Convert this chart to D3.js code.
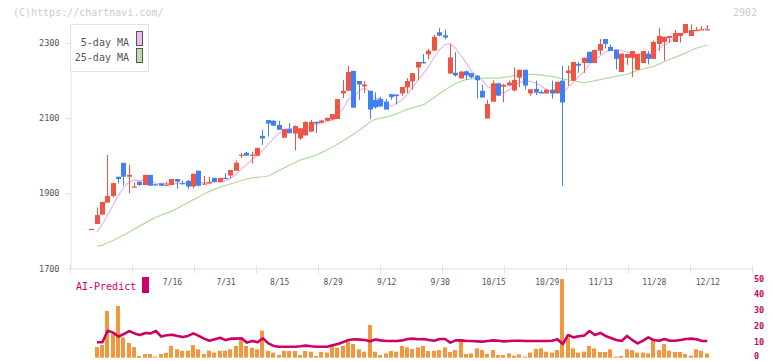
<!DOCTYPE html>
<html><head><meta charset="utf-8">
<script src="https://cdn.jsdelivr.net/npm/d3@7"></script>
<style>
body{margin:0;background:#fff;}
svg{display:block;font-family:"DejaVu Sans Mono",monospace;}
</style></head>
<body><svg id="c" width="772" height="361"></svg>
<script>
const open = [1803,1818,1843,1875,1893,1944,1981,1944,1916,1931, 1922,1949,1924,1926,1920,1922,1938,1927,1933,1918, 1960,1923,1926,1941,1930,1941,1947,1960,2001,2008, 2001,2000,2053,2095,2093,2082,2048,2071,2059,2046, 2054,2064,2090,2088,2093,2097,2098,2166,2173,2226, 2199,2185,2173,2149,2151,2144,2164,2163,2166,2182, 2198,2235,2250,2270,2280,2329,2321,2219,2221,2206, 2225,2220,2213,2173,2099,2144,2193,2184,2187,2174, 2208,2229,2166,2178,2170,2166,2176,2166,2200,2220, 2200,2245,2247,2277,2247,2280,2311,2290,2282,2223, 2261,2261,2229,2247,2271,2258,2298,2303,2314,2303, 2319,2327,2319,2333,2335,2336];
const close = [1805,1842,1877,1893,1927,1938,1944,1949,1918,1922, 1949,1920,1921,1920,1923,1938,1931,1924,1918,1952, 1920,1926,1930,1930,1941,1938,1962,1981,2003,2000, 2003,2021,2046,2086,2080,2069,2071,2060,2079,2073, 2090,2090,2086,2094,2101,2111,2151,2173,2223,2128, 2190,2190,2123,2129,2131,2123,2156,2159,2183,2199, 2220,2250,2246,2280,2317,2320,2315,2262,2214,2224, 2214,2209,2201,2155,2138,2193,2160,2189,2195,2202, 2229,2187,2177,2168,2166,2176,2166,2197,2142,2227, 2250,2240,2261,2247,2282,2298,2298,2279,2258,2272, 2271,2279,2271,2279,2258,2303,2319,2317,2319,2327, 2327,2351,2335,2335,2337,2337];
const high = [1805,1862,1877,2002,1927,1944,1981,1976,1929,1931, 1949,1949,1924,1926,1929,1938,1938,1933,1936,1952, 1960,1946,1944,1941,1941,1953,1962,1987,2008,2010, 2010,2021,2069,2095,2095,2093,2071,2087,2081,2073, 2092,2095,2092,2094,2101,2111,2151,2202,2239,2226, 2199,2199,2173,2169,2157,2151,2164,2163,2183,2207, 2220,2250,2271,2285,2322,2340,2336,2298,2276,2226, 2227,2221,2215,2189,2149,2201,2195,2191,2200,2235, 2229,2229,2177,2200,2175,2177,2200,2197,2240,2240, 2250,2250,2261,2277,2282,2311,2311,2296,2282,2272, 2271,2279,2271,2279,2279,2307,2341,2317,2319,2335, 2327,2351,2350,2343,2346,2348];
const low = [1803,1818,1843,1875,1889,1926,1920,1900,1916,1920, 1922,1920,1921,1920,1920,1922,1912,1924,1912,1913, 1918,1923,1926,1928,1930,1938,1939,1960,1994,2000, 1979,2000,2029,2051,2080,2069,2048,2060,2014,2042, 2054,2064,2060,2088,2093,2094,2098,2153,2173,2128, 2149,2167,2098,2125,2131,2123,2149,2137,2160,2167, 2176,2202,2246,2257,2280,2318,2310,2219,2211,2206, 2202,2206,2152,2155,2099,2144,2160,2142,2187,2171, 2183,2176,2160,2162,2166,2166,2152,2166,1920,2186, 2200,2221,2221,2247,2247,2269,2286,2279,2230,2223, 2242,2210,2229,2247,2243,2258,2279,2253,2301,2303, 2301,2327,2319,2333,2335,2336];
const ma5 = [null,1797,1818,1842,1869,1895,1916,1930,1935,1934, 1936,1932,1926,1926,1927,1924,1927,1927,1927,1933, 1929,1928,1929,1932,1929,1933,1940,1950,1965,1977, 1990,2002,2015,2031,2047,2060,2070,2073,2072,2070, 2075,2078,2084,2087,2092,2096,2109,2126,2152,2157, 2173,2181,2171,2152,2153,2139,2132,2140,2150,2164, 2183,2202,2220,2239,2263,2283,2296,2299,2286,2267, 2246,2225,2212,2201,2183,2179,2169,2167,2175,2188, 2195,2200,2198,2193,2185,2175,2171,2175,2169,2182, 2196,2211,2224,2245,2256,2266,2277,2281,2283,2281, 2276,2272,2270,2274,2272,2278,2286,2295,2303,2317, 2322,2328,2332,2335,2337,2339];
const ma25 = [null,1759,1761,1768,1774,1782,1789,1797,1805,1813, 1821,1829,1836,1842,1847,1853,1860,1868,1875,1883, 1890,1898,1905,1911,1916,1921,1925,1930,1934,1938, 1941,1943,1944,1946,1953,1961,1968,1975,1982,1989, 1993,1997,2002,2009,2016,2023,2032,2040,2049,2058, 2068,2079,2090,2097,2100,2103,2107,2112,2118,2124, 2128,2132,2136,2146,2156,2166,2175,2184,2193,2198, 2203,2205,2206,2207,2207,2207,2207,2209,2211,2214, 2216,2216,2217,2217,2215,2213,2211,2208,2205,2202, 2200,2197,2195,2197,2200,2203,2206,2209,2212,2214, 2217,2222,2227,2231,2235,2238,2244,2251,2257,2262, 2268,2274,2281,2287,2291,2295];
const volume = [null,6.7,8.0,29.4,14.9,32.6,12.8,9.3,6.7,1.1, 2.3,2.3,0.7,2.3,3.0,7.4,5.3,4.4,4.4,8.0, 5.3,2.3,4.4,3.2,4.4,4.4,5.3,7.4,11.8,7.4, 6.3,5.3,17.0,4.4,3.2,1.7,4.4,4.2,4.2,1.7, 4.2,3.8,1.1,3.6,3.2,7.4,6.3,7.4,10.1,8.6, 5.3,3.8,20.6,3.8,1.7,2.7,4.2,3.8,7.4,6.5, 5.5,6.5,7.4,4.2,4.4,4.8,6.5,3.6,4.8,10.5, 2.3,2.7,5.9,4.8,2.3,4.8,1.7,1.7,2.7,1.3, 2.1,0.7,3.2,5.5,5.9,3.8,3.2,4.8,49.5,12.6, 5.9,3.2,3.8,7.4,5.9,3.6,3.6,5.3,0.7,1.1, 5.3,4.8,3.2,3.2,2.7,11.1,4.8,8.6,4.4,3.6, 3.6,2.3,1.3,5.3,4.4,2.7];
const aiPredict = [null,9.7,9.7,17.0,15.8,13.3,14.9,16.8,15.3,14.3, 15.6,15.3,16.8,13.3,14.1,14.5,13.7,13.0,13.7,15.3, 13.7,12.0,10.7,11.6,12.6,11.1,12.0,12.0,12.2,9.5, 10.5,9.7,12.2,9.0,7.4,6.9,6.9,6.9,6.9,7.2, 7.6,7.2,6.9,6.9,6.9,7.8,8.6,9.9,11.1,11.6, 11.4,11.1,10.3,11.4,10.9,10.5,10.5,10.5,10.9,11.8, 12.0,11.6,11.8,11.1,10.7,11.8,11.8,9.5,10.9,10.9, 10.5,10.5,10.3,10.1,10.5,10.9,10.7,10.3,10.5,10.7, 10.7,10.5,10.5,10.5,10.5,10.5,10.7,11.6,8.6,14.3, 12.8,13.5,13.9,16.8,14.3,15.6,13.7,12.4,11.1,10.5, 13.7,11.1,9.0,10.7,12.8,11.1,10.7,11.8,10.7,10.7, 11.1,11.8,12.0,11.6,10.5,10.5];
const dateLabels = ["7/16","7/31","8/15","8/29","9/12","9/30","10/15","10/29","11/13","11/28","12/12"];
const dateLabelIdx = [15,25,35,45,55,65,75,85,95,105,115];
const priceTicks = [1700,1900,2100,2300];
const rightTicks = [0,10,20,30,40,50];
const gridSlots = d3.range(12);

const svg = d3.select("#c");
const N = close.length;
const x = d3.scaleLinear().domain([0, N-1]).range([91.7, 707.3]);
const y = d3.scaleLinear().domain([1700, 2351]).range([268.3, 24]);
const g = d3.scaleLinear().domain([0, 11]).range([70, 752]);
const vy = d3.scaleLinear().domain([0, 50]).range([357.7, 278.3]);
const idx = d3.range(N);
const AXC = "#e0e0e0";

svg.append("text").attr("x",13).attr("y",16).attr("font-size",10).attr("fill","#cccccc").text("(C)https://chartnavi.com/");
svg.append("text").attr("x",733).attr("y",16).attr("font-size",10).attr("fill","#cccccc").text("2902");

const ya = svg.append("g").attr("transform","translate(70.5,0)")
  .call(d3.axisLeft(y).tickValues(priceTicks).tickSize(5).tickSizeOuter(0).tickPadding(6).tickFormat(d3.format("d")));
ya.select(".domain").attr("stroke",AXC);
ya.selectAll(".tick line").attr("stroke",AXC);
ya.selectAll(".tick text").attr("fill","#555").attr("font-size",8.5).attr("font-family","DejaVu Sans Mono");

const xa = svg.append("g").attr("transform","translate(0,268.5)")
  .call(d3.axisBottom(g).tickValues(gridSlots).tickSize(5).tickSizeOuter(0).tickFormat(""));
xa.select(".domain").attr("stroke",AXC);
xa.selectAll(".tick line").attr("stroke",AXC).attr("y1",-3);

const da = svg.append("g").attr("transform","translate(0,279)")
  .call(d3.axisBottom(x).tickValues(dateLabelIdx).tickSize(0).tickPadding(0).tickFormat((d,i)=>dateLabels[i]));
da.select(".domain").remove();
da.selectAll(".tick text").attr("fill","#555").attr("font-size",8).attr("font-family","DejaVu Sans Mono");

const line = (arr)=>d3.line().defined(i=>arr[i]!=null).x(i=>x(i)).y(i=>y(arr[i]));
svg.append("path").datum(idx).attr("d",line(ma25)).attr("fill","none").attr("stroke","#b2dca2").attr("stroke-width",1.2);
svg.append("path").datum(idx).attr("d",line(ma5)).attr("fill","none").attr("stroke","#e8b2e8").attr("stroke-width",1.1);

const UP="#f05444", DN="#4080f0";
const cg = svg.append("g");
idx.forEach(i=>{
  const col = close[i]>=open[i]?UP:DN;
  const left = Math.round(x(i)-2.5);
  cg.append("line").attr("x1",left+2.5).attr("x2",left+2.5)
    .attr("y1",y(high[i])).attr("y2",y(low[i])).attr("stroke",col).attr("stroke-width",1);
  const t = y(Math.max(open[i],close[i])), b = y(Math.min(open[i],close[i]));
  cg.append("rect").attr("x",left).attr("width",5).attr("y",t).attr("height",Math.max(1.2,b-t)).attr("fill",col);
});

svg.append("rect").attr("x",70.5).attr("y",24.5).attr("width",78).attr("height",47).attr("fill","#fff").attr("stroke","#e0e0e0");
svg.append("text").attr("x",129).attr("y",46).attr("text-anchor","end").attr("font-size",10).attr("fill","#555").text("5-day MA");
svg.append("text").attr("x",129).attr("y",60.5).attr("text-anchor","end").attr("font-size",10).attr("fill","#555").text("25-day MA");
svg.append("rect").attr("x",136.5).attr("y",31.5).attr("width",6).attr("height",14).attr("fill","#eebbee").attr("stroke","#555");
svg.append("rect").attr("x",136.5).attr("y",48.5).attr("width",6).attr("height",14).attr("fill","#bbddaa").attr("stroke","#555");

svg.append("g").selectAll("rect").data(idx.filter(i=>volume[i]!=null)).join("rect")
  .attr("x",i=>Math.round(x(i)-2.5)).attr("width",4)
  .attr("y",i=>vy(volume[i])).attr("height",i=>vy(0)-vy(volume[i]))
  .attr("fill","#f2973d");

svg.append("path").datum(idx).attr("d",d3.line().defined(i=>aiPredict[i]!=null).x(i=>x(i)).y(i=>vy(aiPredict[i])))
  .attr("fill","none").attr("stroke","#cc0066").attr("stroke-width",2.6).attr("stroke-linejoin","round");

const ra = svg.append("g").attr("transform","translate(752,0)")
  .call(d3.axisRight(vy).tickValues(rightTicks).tickSize(0).tickPadding(2));
ra.select(".domain").remove();
ra.selectAll(".tick text").attr("fill","#cc0066").attr("font-size",8.5).attr("font-weight","bold").attr("font-family","DejaVu Sans Mono")
  .attr("dy", d => d===0 ? "0.05em" : "0.32em");

svg.append("text").attr("x",76).attr("y",289.5).attr("font-size",10).attr("fill","#cc0066").text("AI-Predict");
svg.append("rect").attr("x",142).attr("y",277).attr("width",7).attr("height",16).attr("fill","#cc0066");
</script></body></html>
